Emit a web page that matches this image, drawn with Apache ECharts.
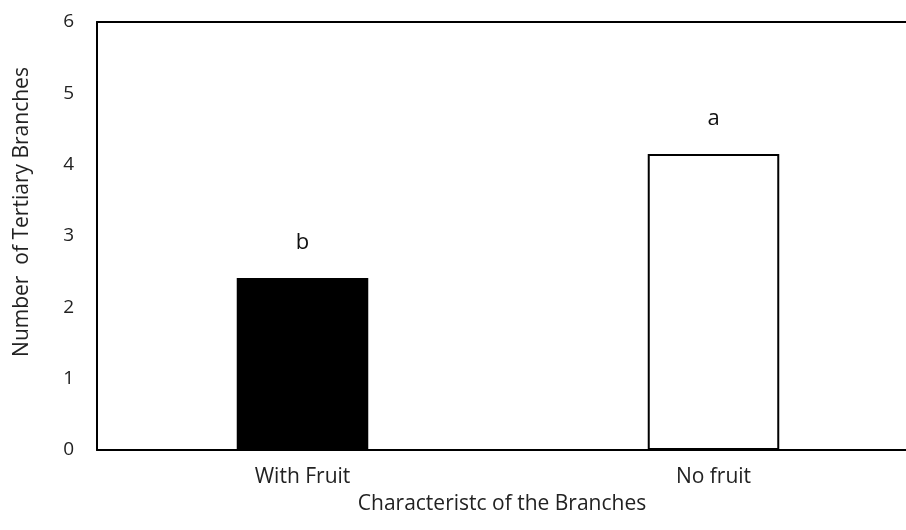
<!DOCTYPE html>
<html>
<head>
<meta charset="utf-8">
<script src="https://cdn.jsdelivr.net/npm/echarts@6/dist/echarts.min.js"></script>
<style>
  html, body { margin: 0; padding: 0; background: #fff; }
  #chart { width: 906px; height: 530px; }
</style>
</head>
<body>
<div id="chart"></div>
<script>
// Branch categories and mean number of tertiary branches per category
const categories = ['With Fruit', 'No fruit'];
const tertiaryBranches = [2.41, 4.15];
const groupLetters = ['b', 'a'];
const yTicks = [0, 1, 2, 3, 4, 5, 6];

const barFills = ['#000000', '#ffffff'];
const FONT = '"Open Sans", "Noto Sans", sans-serif';

const chart = echarts.init(document.getElementById('chart'), null, { renderer: 'canvas' });

chart.setOption({
  animation: false,
  backgroundColor: '#ffffff',
  grid: {
    left: 97,
    top: 22,
    width: 822,
    height: 428,
    outerBoundsMode: 'none',
    containLabel: false,
    show: false
  },
  xAxis: [{
    type: 'category',
    data: categories,
    name: 'Characteristc of the Branches',
    nameLocation: 'middle',
    nameGap: 44,
    nameTextStyle: { fontFamily: FONT, fontSize: 21, color: '#222', padding: [0, 12, 0, 0] },
    axisLine: { show: true, lineStyle: { color: '#000', width: 2 } },
    axisTick: { show: false },
    axisLabel: { fontFamily: FONT, fontSize: 21, color: '#222', margin: 17 },
    splitLine: { show: false }
  }, {
    // plain frame line along the top of the plot
    type: 'category',
    data: categories,
    position: 'top',
    axisLine: { show: true, lineStyle: { color: '#000', width: 2 } },
    axisTick: { show: false },
    axisLabel: { show: false },
    splitLine: { show: false }
  }],
  yAxis: {
    type: 'value',
    min: yTicks[0],
    max: yTicks[yTicks.length - 1],
    interval: 1,
    name: 'Number  of Tertiary Branches',
    nameLocation: 'middle',
    nameGap: 64,
    nameTextStyle: { fontFamily: FONT, fontSize: 21, color: '#222', padding: [0, 0, 0, 48] },
    axisLine: { show: true, lineStyle: { color: '#000', width: 2 } },
    axisTick: { show: false },
    axisLabel: { fontFamily: FONT, fontSize: 19, color: '#222', margin: 23 },
    splitLine: { show: false }
  },
  series: [{
    type: 'bar',
    xAxisIndex: 0,
    barWidth: '32%',
    data: tertiaryBranches.map((v, i) => ({
      value: v,
      itemStyle: { color: barFills[i], borderColor: '#000', borderWidth: 2 },
      label: { formatter: groupLetters[i] }
    })),
    label: {
      show: true,
      position: 'top',
      distance: 24,
      fontFamily: FONT,
      fontSize: 22,
      color: '#111'
    }
  }]
});
</script>
</body>
</html>
